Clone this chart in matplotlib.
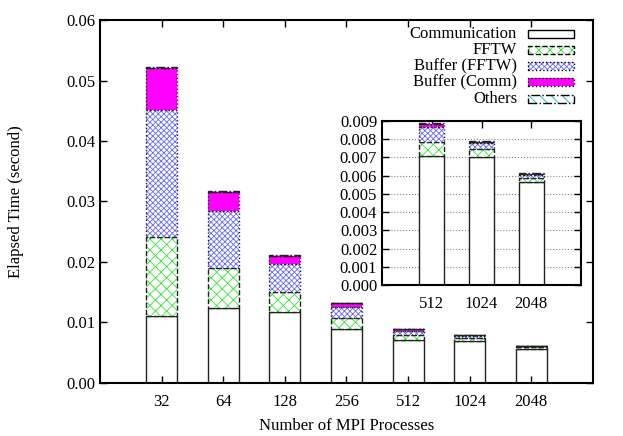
import matplotlib
matplotlib.use("Agg")
import matplotlib.pyplot as plt
from matplotlib.patches import Rectangle
import numpy as np

# -----------------------------
# Data
# -----------------------------
procs = ["32", "64", "128", "256", "512", "1024", "2048"]

communication = [0.0110, 0.01235, 0.0117, 0.0090, 0.0071, 0.0070, 0.00567]
fftw          = [0.0132, 0.0066, 0.0033, 0.0017, 0.00077, 0.00045, 0.00022]
buffer_fftw   = [0.0210, 0.0094, 0.0047, 0.0019, 0.00079, 0.00033, 0.00015]
buffer_comm   = [0.0069, 0.0033, 0.0013, 0.0006, 0.00020, 0.00009, 0.00006]
others        = [0.0001, 0.0001, 0.0001, 0.0001, 0.00004, 0.00003, 0.00003]

labels = ["Communication", "FFTW", "Buffer (FFTW)", "Buffer (Comm)", "Others"]
series = [communication, fftw, buffer_fftw, buffer_comm, others]

# style per component: face, hatch colour, hatch, border style
styles = [
    dict(face="white", hc="black", hatch=None, ls="-"),
    dict(face="white", hc="#33e633", hatch="xxx", ls="--"),
    dict(face="white", hc="#6868ff", hatch="xxxxxx", ls=":"),
    dict(face="#ff00ff", hc="#ff00ff", hatch=None, ls=":"),
    dict(face="white", hc="#00bbbb", hatch="\\\\\\", ls="-."),
]

plt.rcParams["font.family"] = ["Liberation Serif", "DejaVu Serif"]
plt.rcParams["hatch.linewidth"] = 0.6
plt.rcParams["font.size"] = 12


def draw_stack(ax, idx, width=0.5):
    x = np.arange(len(idx))
    bottom = np.zeros(len(idx))
    for vals, st in zip(series, styles):
        v = np.array([vals[i] for i in idx])
        if st["hatch"]:
            ax.bar(x, v, width, bottom=bottom, color=st["face"],
                   edgecolor=st["hc"], hatch=st["hatch"], linewidth=0)
        else:
            ax.bar(x, v, width, bottom=bottom, color=st["face"], linewidth=0)
        ax.bar(x, v, width, bottom=bottom, fill=False, edgecolor="#222222",
               linestyle=st["ls"], linewidth=1.0)
        bottom += v
    ax.set_xticks(x)
    ax.set_xticklabels([procs[i] for i in idx])
    ax.set_xlim(-1, len(idx))
    ax.tick_params(direction="in", top=True, right=True, length=5, width=1)
    ax.tick_params(axis="x", pad=8)
    for s in ax.spines.values():
        s.set_linewidth(1.5)


fig = plt.figure(figsize=(6.23, 4.36), dpi=100)
ax = fig.add_axes([0.1605, 0.1216, 0.7913, 0.8325])
draw_stack(ax, range(len(procs)))
ax.set_ylim(0, 0.06)
ax.set_yticks(np.arange(0, 0.061, 0.01))
ax.yaxis.set_major_formatter(plt.FormatStrFormatter("%.2f"))
ax.set_xlabel("Number of MPI Processes", labelpad=6)
ax.set_ylabel("Elapsed Time (second)", labelpad=30)

# legend drawn by hand: text right aligned, swatch on the right
ys = [0.961, 0.917, 0.873, 0.829, 0.783]
for lab, st, y in zip(labels, styles, ys):
    ax.text(0.846, y, lab, transform=ax.transAxes, ha="right", va="center")
    if st["hatch"]:
        ax.add_patch(Rectangle((0.868, y - 0.011), 0.093, 0.022, transform=ax.transAxes,
                               facecolor=st["face"], edgecolor=st["hc"],
                               hatch=st["hatch"], linewidth=0))
    else:
        ax.add_patch(Rectangle((0.868, y - 0.011), 0.093, 0.022, transform=ax.transAxes,
                               facecolor=st["face"], linewidth=0))
    ax.add_patch(Rectangle((0.868, y - 0.011), 0.093, 0.022, transform=ax.transAxes,
                           fill=False, edgecolor="black", linestyle=st["ls"],
                           linewidth=1.0))

# inset
axi = fig.add_axes([0.6132, 0.3463, 0.3194, 0.3762])
axi.set_axisbelow(True)
axi.grid(True, axis="y", linestyle=":", color="#888888", linewidth=0.8)
draw_stack(axi, [4, 5, 6])
axi.set_ylim(0, 0.009)
axi.set_yticks(np.arange(0, 0.0091, 0.001))
axi.yaxis.set_major_formatter(plt.FormatStrFormatter("%.3f"))

plt.savefig("out.png", dpi=100)
